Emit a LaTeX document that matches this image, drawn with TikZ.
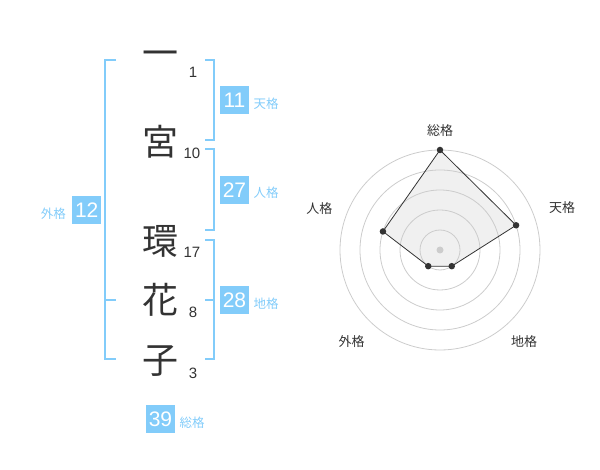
\documentclass[tikz,border=0pt]{standalone}
\usepackage{fontspec}
\setmainfont{Liberation Sans}
\newfontfamily\cjk{Noto Sans CJK JP}
\usepackage{tikz}
\definecolor{kakublue}{RGB}{130,204,250}
\definecolor{inkgrey}{RGB}{51,51,51}
\definecolor{ringgrey}{RGB}{204,204,204}
\definecolor{areagrey}{RGB}{240,240,240}

\begin{document}
\begin{tikzpicture}[x=1pt,y=-1pt,
  kanji/.style={text=inkgrey,font=\cjk\fontsize{36}{36}\selectfont,inner sep=0pt},
  stroke/.style={text=inkgrey,font=\fontsize{15}{15}\selectfont,inner sep=0pt},
  kakubox/.style={fill=kakublue,text=white,font=\fontsize{21}{21}\selectfont,minimum width=29pt,minimum height=28pt,inner sep=0pt},
  kakuname/.style={text=kakublue,font=\cjk\fontsize{12.5}{12.5}\selectfont,inner sep=0pt},
  bracket/.style={draw=kakublue,line width=2pt},
  ring/.style={draw=ringgrey,line width=0.8pt},
  axisname/.style={text=inkgrey,font=\cjk\fontsize{13}{13}\selectfont,inner sep=0pt},
  dot/.style={circle,fill=inkgrey,inner sep=0pt,minimum size=6.5pt}]
\useasboundingbox (0,0) rectangle (600,470);
% name column
\node (K1) at (160,58.7)[kanji] {一};
\node (K2) at (160,142)[kanji] {宮};
\node (K3) at (160,241)[kanji] {環};
\node (K4) at (160,300)[kanji] {花};
\node (K5) at (160,361)[kanji] {子};
\node (S1) at (193,72.7)[stroke] {1};
\node (S2) at (192,153)[stroke] {10};
\node (S3) at (192,252.7)[stroke] {17};
\node (S4) at (193,312.7)[stroke] {8};
\node (S5) at (193,373.3)[stroke] {3};
% brackets
\draw [bracket] (116,60) -- (105,60) -- (105,359.3) -- (116,359.3);
\draw [bracket] (105,300) -- (116,300);
\draw [bracket] (205,60) -- (214.3,60) -- (214.3,140) -- (205,140);
\draw [bracket] (205,149.3) -- (214.3,149.3) -- (214.3,230) -- (205,230);
\draw [bracket] (205,240) -- (214.3,240) -- (214.3,359.3) -- (205,359.3);
\draw [bracket] (205,300) -- (214.3,300);
% boxes
\node (Ten) at (234.5,100)[kakubox] {11};
\node (Jin) at (234.5,190)[kakubox] {27};
\node (Chi) at (234.5,300)[kakubox] {28};
\node (Gai) at (86.7,210.5)[kakubox] {12};
\node (Sou) at (160.5,419)[kakubox] {39};
\node (TenL) at (266,104)[kakuname] {天格};
\node (JinL) at (266,193)[kakuname] {人格};
\node (ChiL) at (266,304)[kakuname] {地格};
\node (GaiL) at (53.3,213.3)[kakuname] {外格};
\node (SouL) at (192,422.7)[kakuname] {総格};
% radar
\begin{scope}[shift={(440,250)},yscale=-1]
\coordinate (RSou) at (90:100);
\coordinate (RTen) at (18:80);
\coordinate (RChi) at (-54:20);
\coordinate (RGai) at (234:20);
\coordinate (RJin) at (162:60);
\fill [areagrey] (RSou) -- (RTen) -- (RChi) -- (RGai) -- (RJin) -- cycle;
\foreach \r in {20,40,60,80,100}
  \draw [ring] (0,0) circle (\r pt);
\draw [inkgrey,line width=0.8pt] (RSou) -- (RTen) -- (RChi) -- (RGai) -- (RJin) -- cycle;
\foreach \p in {RSou,RTen,RChi,RGai,RJin}
  \node [dot] at (\p) {};
\node (RC) at (0,0)[circle,fill=ringgrey,inner sep=0pt,minimum size=7pt] {};
\end{scope}
\node (ASou) at (440,130.7)[axisname] {総格};
\node (ATen) at (562,208)[axisname] {天格};
\node (AJin) at (319.3,209)[axisname] {人格};
\node (AGai) at (351.7,342)[axisname] {外格};
\node (AChi) at (524,342)[axisname] {地格};
\end{tikzpicture}
\end{document}
